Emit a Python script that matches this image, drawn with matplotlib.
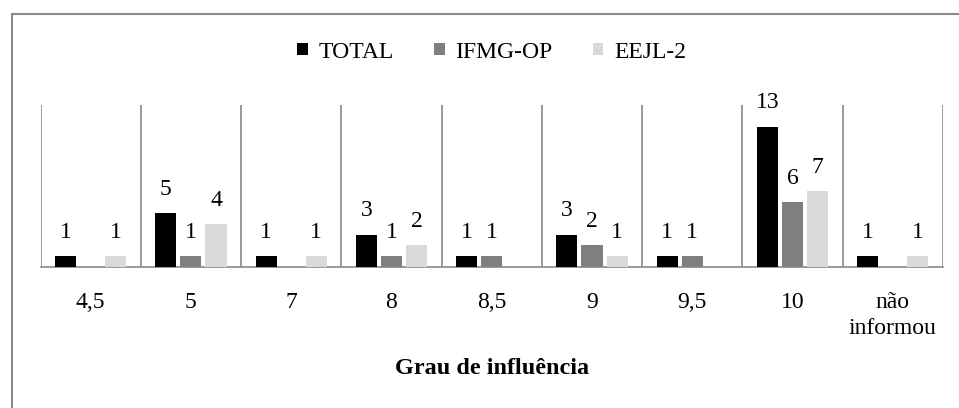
import numpy as np
import matplotlib
matplotlib.use("Agg")
from matplotlib import pyplot as plt
from matplotlib.patches import Rectangle

# grau de influencia - respostas por escola
categorias = ["4,5", "5", "7", "8", "8,5", "9", "9,5", "10", "não\ninformou"]
total = [1, 5, 1, 3, 1, 3, 1, 13, 1]
ifmg_op = [0, 1, 0, 1, 1, 2, 1, 6, 0]
eejl_2 = [1, 4, 1, 2, 0, 1, 0, 7, 1]

series = [("TOTAL", total, "#000000"),
          ("IFMG-OP", ifmg_op, "#7f7f7f"),
          ("EEJL-2", eejl_2, "#d9d9d9")]

plt.rcParams['font.family'] = ['Liberation Serif', 'DejaVu Serif']
W, H = 959, 408
fig = plt.figure(figsize=(W / 100, H / 100), dpi=100)
ax = fig.add_axes([40.5 / W, 1 - 267 / H, (943 - 40.5) / W, (267 - 105) / H])

grid_c = "#898989"
x = np.arange(len(categorias))
bw = 0.21
step = 0.25
for i, (nome, vals, cor) in enumerate(series):
    pos = x + (i - 1) * step
    vals = np.array(vals)
    ax.bar(pos[vals > 0], vals[vals > 0], width=bw, color=cor, label=nome, zorder=3)
    for p, v in zip(pos, vals):
        if v > 0:
            ax.annotate(str(v), (p, v), xytext=(0, 9.5), textcoords="offset points",
                        ha="center", va="bottom", fontsize=17)

ax.set_xlim(-0.5, len(categorias) - 0.5)
ax.set_ylim(0, 15)
ax.vlines(np.arange(len(categorias) + 1) - 0.5, 0, 15, color=grid_c, lw=1.2, zorder=2)

for s in ["top", "left", "right"]:
    ax.spines[s].set_visible(False)
ax.spines["bottom"].set_color(grid_c)
ax.spines["bottom"].set_linewidth(1.2)
ax.set_yticks([])
ax.set_xticks(x)
ax.set_xticklabels(categorias, fontsize=17, linespacing=1.3)
ax.tick_params(axis="x", length=0, pad=18)

ax.set_xlabel("Grau de influência", fontsize=17.5, fontweight="bold", labelpad=14)

ax.legend(loc="center", bbox_to_anchor=(0.5, 1 + (105 - 52) / 162), ncol=3,
          frameon=False, fontsize=17, handlelength=0.45, handleheight=0.45,
          handletextpad=0.45, columnspacing=1.7)

# moldura do grafico
fig.patches.append(Rectangle((11.5 / W, -0.1), 2, 1.1 - 14 / H, transform=fig.transFigure,
                             fill=False, edgecolor=grid_c, lw=1.5))

fig.savefig("out.png", dpi=100)
